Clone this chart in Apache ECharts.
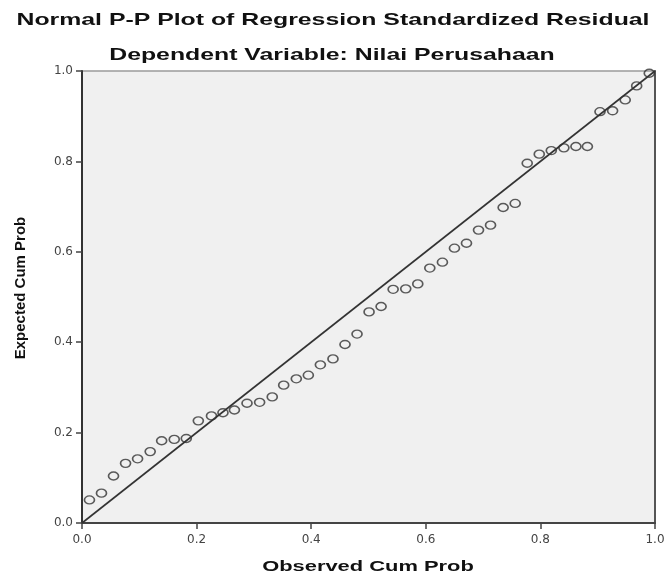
<!DOCTYPE html>
<html>
<head>
<meta charset="utf-8">
<script src="https://cdn.jsdelivr.net/npm/echarts@6/dist/echarts.min.js"></script>
<style>
html,body{margin:0;padding:0;background:#fff;}
#chart{width:671px;height:580px;}
</style>
</head>
<body>
<div id="chart"></div>
<script>
// ---- data ----
const titleText = "Normal P-P Plot of Regression Standardized Residual";
const subtitleText = "Dependent Variable: Nilai Perusahaan";
const xAxisTitle = "Observed Cum Prob";
const yAxisTitle = "Expected Cum Prob";
const tickValues = [0.0, 0.2, 0.4, 0.6, 0.8, 1.0];

const observedCumProb = [
  0.013, 0.034, 0.055, 0.076, 0.097, 0.119, 0.139, 0.161, 0.182, 0.203,
  0.226, 0.246, 0.266, 0.288, 0.310, 0.332, 0.352, 0.374, 0.395, 0.416,
  0.438, 0.459, 0.480, 0.501, 0.522, 0.543, 0.565, 0.586, 0.607, 0.629,
  0.650, 0.671, 0.692, 0.713, 0.735, 0.756, 0.777, 0.798, 0.819, 0.841,
  0.862, 0.882, 0.904, 0.926, 0.948, 0.968, 0.990
];
const expectedCumProb = [
  0.051, 0.066, 0.104, 0.132, 0.142, 0.158, 0.182, 0.185, 0.187, 0.226,
  0.237, 0.244, 0.250, 0.265, 0.267, 0.279, 0.305, 0.319, 0.327, 0.350,
  0.363, 0.395, 0.418, 0.467, 0.479, 0.517, 0.518, 0.529, 0.564, 0.577,
  0.608, 0.619, 0.648, 0.659, 0.698, 0.707, 0.796, 0.816, 0.824, 0.830,
  0.833, 0.833, 0.910, 0.912, 0.936, 0.967, 0.995
];
const refLineX = [0, 1];
const refLineY = [0, 1];

const points = observedCumProb.map((x, i) => [x, expectedCumProb[i]]);
const refLine = refLineX.map((x, i) => [x, refLineY[i]]);

const chart = echarts.init(document.getElementById('chart'), null, {renderer: 'canvas'});
const labelStyle = {fontFamily: 'DejaVu Sans', fontSize: 12, color: '#444',
  formatter: v => v.toFixed(1)};
chart.setOption({
  animation: false,
  backgroundColor: '#ffffff',
  grid: {left: 82, right: 16, top: 71, bottom: 57, show: true,
    backgroundColor: '#f0f0f0', borderColor: '#9a9a9a', borderWidth: 1.5},
  xAxis: [{
    type: 'value', min: 0, max: 1, interval: 0.2,
    axisLine: {show: true, onZero: false, lineStyle: {color: '#444', width: 2}},
    axisTick: {show: true, length: 6, lineStyle: {color: '#444', width: 1.5}},
    axisLabel: Object.assign({margin: 11}, labelStyle),
    splitLine: {show: false}
  }],
  yAxis: [{
    type: 'value', min: 0, max: 1, interval: 0.2,
    axisLine: {show: true, onZero: false, lineStyle: {color: '#333', width: 2}},
    axisTick: {show: true, length: 6, lineStyle: {color: '#444', width: 1.5}},
    axisLabel: Object.assign({margin: 9}, labelStyle),
    splitLine: {show: false}
  }, {
    type: 'value', min: 0, max: 1, position: 'right',
    axisLine: {show: true, onZero: false, lineStyle: {color: '#555', width: 2}},
    axisTick: {show: false}, axisLabel: {show: false}, splitLine: {show: false}
  }],
  series: [{
    type: 'scatter',
    data: points,
    symbol: 'circle',
    symbolSize: [10, 8],
    itemStyle: {color: 'rgba(0,0,0,0)', borderColor: '#333', borderWidth: 1.5},
    z: 3
  }, {
    type: 'line',
    data: refLine,
    showSymbol: false,
    symbol: 'none',
    lineStyle: {color: '#333', width: 1.6},
    z: 4
  }],
  graphic: [{
    type: 'text', x: 333, y: 20, scaleX: 1.46,
    style: {text: titleText, fontFamily: 'Liberation Sans', fontWeight: 'bold',
      fontSize: 17, fill: '#111', align: 'center', verticalAlign: 'middle'}
  }, {
    type: 'text', x: 332, y: 55, scaleX: 1.46,
    style: {text: subtitleText, fontFamily: 'Liberation Sans', fontWeight: 'bold',
      fontSize: 17, fill: '#111', align: 'center', verticalAlign: 'middle'}
  }, {
    type: 'text', x: 368, y: 567, scaleX: 1.46,
    style: {text: xAxisTitle, fontFamily: 'Liberation Sans', fontWeight: 'bold',
      fontSize: 15, fill: '#111', align: 'center', verticalAlign: 'middle'}
  }, {
    type: 'text', x: 21, y: 288, rotation: Math.PI / 2,
    style: {text: yAxisTitle, fontFamily: 'Liberation Sans', fontWeight: 'bold',
      fontSize: 15, fill: '#111', align: 'center', verticalAlign: 'middle'}
  }]
});
</script>
</body>
</html>
